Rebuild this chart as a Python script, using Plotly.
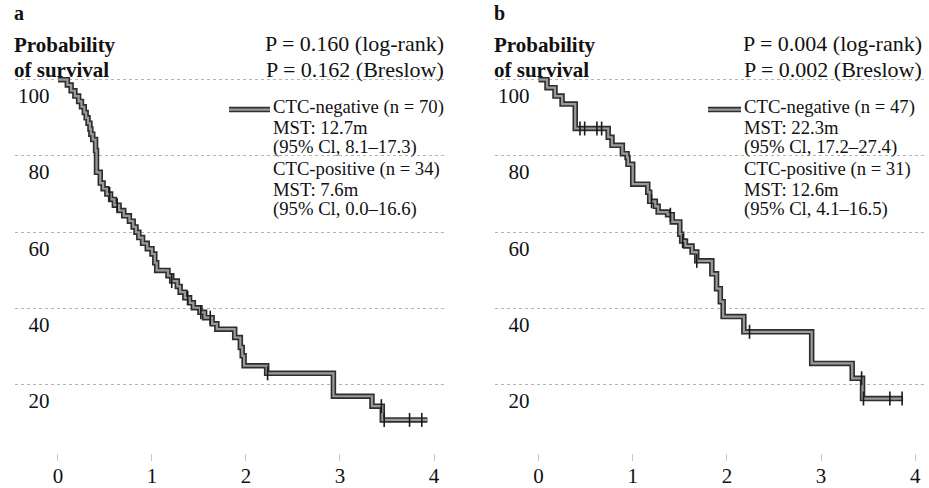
import plotly.graph_objects as go
import numpy as np

# ---------------- data ----------------
a_time = [0, 0.10, 0.14, 0.18, 0.22, 0.25, 0.28, 0.30, 0.32, 0.34,
          0.35, 0.37, 0.40, 0.41, 0.45, 0.48, 0.52, 0.56, 0.60, 0.65,
          0.70, 0.76, 0.80, 0.83, 0.86, 0.90, 0.95, 1.00, 1.03, 1.05,
          1.17, 1.21, 1.27, 1.30, 1.35, 1.40, 1.44, 1.51, 1.56, 1.64,
          1.69, 1.88, 1.94, 1.96, 1.98, 2.22, 2.93, 3.34, 3.45, 3.93]
a_surv = [100, 98.6, 97.1, 95.7, 94.3, 92.9, 91.4, 90.0, 88.6, 87.1,
          85.7, 84.3, 81.4, 75.7, 72.9, 71.4, 70.0, 68.6, 67.1, 65.7,
          64.3, 62.9, 61.4, 60.0, 58.6, 57.1, 55.7, 54.3, 52.0, 50.0,
          48.6, 47.2, 45.8, 44.3, 42.8, 41.5, 40.2, 39.0, 37.6, 36.0,
          34.6, 32.4, 29.8, 27.6, 25.0, 23.0, 17.0, 14.4, 10.8, 10.8]
a_censor = [0.55, 0.63, 1.21, 1.38, 1.52, 1.62, 2.23, 3.44, 3.47, 3.74, 3.87]

b_time = [0, 0.09, 0.175, 0.25, 0.39, 0.74, 0.78, 0.89, 0.94, 0.95,
          1.00, 1.16, 1.18, 1.24, 1.27, 1.37, 1.42, 1.50, 1.52, 1.56,
          1.63, 1.68, 1.84, 1.89, 1.93, 1.96, 2.18, 2.90, 3.33, 3.44, 3.87]
b_surv = [100, 97.9, 95.7, 93.6, 87.2, 84.9, 82.8, 80.6, 79.6, 77.8,
          72.6, 70.5, 68.1, 66.8, 65.3, 64.6, 62.7, 59.5, 57.7, 56.4,
          54.8, 52.5, 49.1, 45.2, 41.8, 37.9, 33.9, 25.6, 21.7, 16.4, 16.4]
b_censor = [0.44, 0.49, 0.62, 0.67, 1.20, 1.40, 1.53, 1.68, 2.24, 3.43, 3.45, 3.73, 3.86]

x_ticks = [0, 1, 2, 3, 4]
y_ticks = [0, 20, 40, 60, 80, 100]
y_ticktext = ["", "\u00a0\u00a020", "\u00a0\u00a040", "\u00a0\u00a060", "\u00a0\u00a080", "100"]

panel_a_text = {
    "letter": "a",
    "p1": "P = 0.160 (log-rank)",
    "p2": "P = 0.162 (Breslow)",
    "legend": ["CTC-negative (n = 70)", "MST: 12.7m", "(95% Cl, 8.1\u201317.3)",
               "CTC-positive (n = 34)", "MST: 7.6m", "(95% Cl, 0.0\u201316.6)"],
}
panel_b_text = {
    "letter": "b",
    "p1": "P = 0.004 (log-rank)",
    "p2": "P = 0.002 (Breslow)",
    "legend": ["CTC-negative (n = 47)", "MST: 22.3m", "(95% Cl, 17.2\u201327.4)",
               "CTC-positive (n = 31)", "MST: 12.6m", "(95% Cl, 4.1\u201316.5)"],
}

# ---------------- figure ----------------
W, H = 929, 488
FONT = "Liberation Serif"
Y_TOP = 103.0
PX_PER_PCT = 3.83
TOP_PX = 463 - Y_TOP * PX_PER_PCT


def fx(px):
    return px / W


def fy(py):
    return 1 - py / H


def step_value(times, surv, t):
    i = np.searchsorted(np.array(times), t, side="right") - 1
    return surv[max(i, 0)]


fig = go.Figure()

panels = [
    (a_time, a_surv, a_censor, "x", "y"),
    (b_time, b_surv, b_censor, "x2", "y2"),
]
for times, surv, cens, xa, ya in panels:
    fig.add_trace(go.Scatter(x=times, y=surv, mode="lines", line_shape="hv",
                             line=dict(color="#2e2e2e", width=5.5),
                             xaxis=xa, yaxis=ya, hoverinfo="skip"))
    fig.add_trace(go.Scatter(x=times, y=surv, mode="lines", line_shape="hv",
                             line=dict(color="#9a9a9a", width=2.2),
                             xaxis=xa, yaxis=ya, hoverinfo="skip"))
    cy = [step_value(times, surv, t) for t in cens]
    fig.add_trace(go.Scatter(x=cens, y=cy, mode="markers",
                             marker=dict(symbol="line-ns-open", size=10, color="#1a1a1a",
                                         line=dict(color="#1a1a1a", width=1.6)),
                             xaxis=xa, yaxis=ya, hoverinfo="skip"))

xcommon = dict(tickvals=x_ticks, ticks="inside", ticklen=7, tickcolor="#c8c8c8",
               tickwidth=1, showgrid=False, zeroline=False, showline=False,
               tickfont=dict(family=FONT, size=21, color="#111"))
ycommon = dict(tickvals=y_ticks, ticktext=y_ticktext, range=[0, Y_TOP],
               domain=[25 / H, (H - TOP_PX) / H], showgrid=True, gridcolor="#b4b4b4",
               griddash="dot", gridwidth=1, zeroline=False, showline=False,
               ticks="", ticklabelposition="inside", ticklabelshift=16,
               tickfont=dict(family=FONT, size=21, color="#111"))

fig.update_layout(
    width=W, height=H,
    margin=dict(l=0, r=0, t=0, b=0),
    paper_bgcolor="white", plot_bgcolor="white",
    showlegend=False,
    xaxis=dict(domain=[fx(15), fx(445)], range=[-0.457, 4.117], anchor="y", **xcommon),
    yaxis=dict(anchor="x", **ycommon),
    xaxis2=dict(domain=[fx(495), fx(925)], range=[-0.462, 4.103], anchor="y2", **xcommon),
    yaxis2=dict(anchor="x2", **ycommon),
)

annotations = []
shapes = []
for texts, left, pright, legx, linex0, linex1 in [
    (panel_a_text, 12, 446, 271, 229, 270),
    (panel_b_text, 492, 924, 742, 708, 741),
]:
    annotations.append(dict(text="<b>%s</b>" % texts["letter"], x=fx(left), y=fy(13),
                            xref="paper", yref="paper", xanchor="left", yanchor="middle",
                            showarrow=False, font=dict(family=FONT, size=20, color="#111")))
    annotations.append(dict(text="<b>Probability</b>", x=fx(left), y=fy(45),
                            xref="paper", yref="paper", xanchor="left", yanchor="middle",
                            showarrow=False, font=dict(family=FONT, size=21, color="#111")))
    annotations.append(dict(text="<b>of survival</b>", x=fx(left), y=fy(70),
                            xref="paper", yref="paper", xanchor="left", yanchor="middle",
                            showarrow=False, font=dict(family=FONT, size=21, color="#111")))
    annotations.append(dict(text=texts["p1"], x=fx(pright), y=fy(44),
                            xref="paper", yref="paper", xanchor="right", yanchor="middle",
                            showarrow=False, font=dict(family=FONT, size=22, color="#111")))
    annotations.append(dict(text=texts["p2"], x=fx(pright), y=fy(70),
                            xref="paper", yref="paper", xanchor="right", yanchor="middle",
                            showarrow=False, font=dict(family=FONT, size=22, color="#111")))
    for i, line in enumerate(texts["legend"]):
        ypos = [107, 128, 148, 170, 190, 210][i]
        annotations.append(dict(text=line, x=fx(legx), y=fy(ypos),
                                xref="paper", yref="paper", xanchor="left", yanchor="middle",
                                showarrow=False, font=dict(family=FONT, size=18.7, color="#111")))
    shapes.append(dict(type="line", xref="paper", yref="paper",
                       x0=fx(linex0), x1=fx(linex1), y0=fy(110), y1=fy(110),
                       line=dict(color="#2e2e2e", width=5.5)))
    shapes.append(dict(type="line", xref="paper", yref="paper",
                       x0=fx(linex0), x1=fx(linex1), y0=fy(110), y1=fy(110),
                       line=dict(color="#9a9a9a", width=2.2)))

fig.update_layout(annotations=annotations, shapes=shapes)

fig.write_html("out.html")
